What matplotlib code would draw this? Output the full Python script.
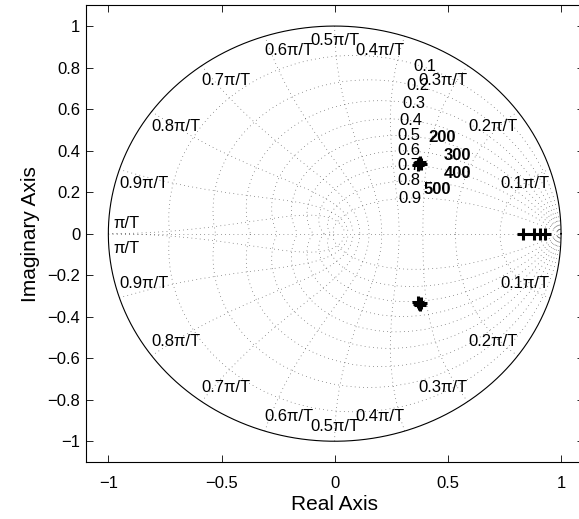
import numpy as np
import matplotlib.pyplot as plt

plt.rcParams['font.family'] = ['Liberation Sans', 'DejaVu Sans']

# z-plane grid: damping ratios and natural frequencies (in units of pi/T)
zetas = [0.1, 0.2, 0.3, 0.4, 0.5, 0.6, 0.7, 0.8, 0.9]
zeta_labels = ['0.1', '0.2', '0.3', '0.4', '0.5', '0.6', '0.7', '0.8', '0.9']
wn_fracs = [0.1, 0.2, 0.3, 0.4, 0.5, 0.6, 0.7, 0.8, 0.9, 1.0]
wn_labels = ['0.1\u03c0/T', '0.2\u03c0/T', '0.3\u03c0/T', '0.4\u03c0/T', '0.5\u03c0/T',
             '0.6\u03c0/T', '0.7\u03c0/T', '0.8\u03c0/T', '0.9\u03c0/T', '\u03c0/T']

# closed-loop poles for the gains 200..500
gains = ['200', '300', '400', '500']
cplx_re = [0.366, 0.371, 0.377, 0.381]
cplx_im = [0.330, 0.340, 0.345, 0.336]
real_poles = [0.834, 0.882, 0.905, 0.927]
gain_x = [0.473, 0.544, 0.544, 0.455]
gain_y = [0.464, 0.377, 0.290, 0.213]

fig = plt.figure(figsize=(5.79, 5.19), dpi=100)
ax = fig.add_axes([85.7 / 579, 57 / 519, 498 / 579, 456.7 / 519])

dot = dict(color='0.25', linestyle=(0, (1, 5)), linewidth=0.5)

# constant damping lines
for z in zetas:
    w = np.linspace(0, np.pi / np.sqrt(1 - z ** 2), 200)
    p = np.exp(w * (-z + 1j * np.sqrt(1 - z ** 2)))
    ax.plot(p.real, p.imag, **dot)
    ax.plot(p.real, -p.imag, **dot)
ax.plot([-1, 1], [0, 0], **dot)

# constant natural frequency lines
zz = np.linspace(0, 1, 200)
for f in wn_fracs:
    p = np.exp(f * np.pi * (-zz + 1j * np.sqrt(1 - zz ** 2)))
    ax.plot(p.real, p.imag, **dot)
    ax.plot(p.real, -p.imag, **dot)

# unit circle
t = np.linspace(0, 2 * np.pi, 400)
ax.plot(np.cos(t), np.sin(t), color='k', linewidth=0.8)

# damping labels
for z, lab in zip(zetas, zeta_labels):
    w = 1.13
    p = np.exp(w * (-z + 1j * np.sqrt(1 - z ** 2)))
    ax.annotate(lab, (p.real, p.imag), xytext=(2, 0), textcoords='offset points',
                ha='center', va='center', fontsize=12)

# natural frequency labels
for f, lab in zip(wn_fracs, wn_labels):
    th = f * np.pi
    c, s = np.cos(th), np.sin(th)
    ha = 'right' if c > 0.05 else ('left' if c < -0.05 else 'center')
    if f < 1.0:
        ax.annotate(lab, (c, s), xytext=(0, -5), textcoords='offset points',
                    ha=ha, va='top', fontsize=12)
        ax.annotate(lab, (c, -s), xytext=(0, 5), textcoords='offset points',
                    ha=ha, va='bottom', fontsize=12)
    else:
        ax.annotate(lab, (c, 0), xytext=(4, 2), textcoords='offset points',
                    ha='left', va='bottom', fontsize=12)
        ax.annotate(lab, (c, 0), xytext=(4, -5), textcoords='offset points',
                    ha='left', va='top', fontsize=12)

# poles
mk = dict(marker='+', color='k', markersize=8, markeredgewidth=2.2, linestyle='none')
ax.plot(cplx_re, cplx_im, **mk)
ax.plot(cplx_re, [-v for v in cplx_im], **mk)
ax.plot(real_poles, [0] * len(real_poles), **mk)

for g, x, y in zip(gains, gain_x, gain_y):
    ax.text(x, y, g, ha='center', va='center', fontsize=12, fontweight='bold')

ax.set_xlim(-1.1, 1.1)
ax.set_ylim(-1.1, 1.1)
ax.set_xticks([-1, -0.5, 0, 0.5, 1])
ax.set_xticklabels(['\u22121', '\u22120.5', '0', '0.5', '1'])
ax.set_yticks([-1, -0.8, -0.6, -0.4, -0.2, 0, 0.2, 0.4, 0.6, 0.8, 1])
ax.set_yticklabels(['\u22121', '\u22120.8', '\u22120.6', '\u22120.4', '\u22120.2', '0',
                    '0.2', '0.4', '0.6', '0.8', '1'])
ax.tick_params(direction='in', top=True, right=True, length=5, width=0.6,
               labelsize=12)
ax.tick_params(axis='x', pad=10)
ax.tick_params(axis='y', pad=4)
for sp in ax.spines.values():
    sp.set_linewidth(0.8)
ax.set_xlabel('Real Axis', fontsize=15, labelpad=3)
ax.set_ylabel('Imaginary Axis', fontsize=15, labelpad=5)

fig.savefig('out.png', dpi=100)
